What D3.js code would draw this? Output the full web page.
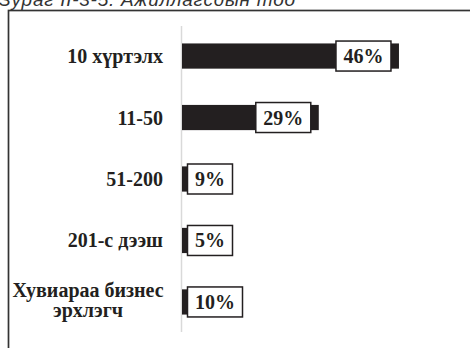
<!DOCTYPE html>
<html>
<head>
<meta charset="utf-8">
<script src="https://cdn.jsdelivr.net/npm/d3@7/dist/d3.min.js"></script>
<style>
  html, body { margin: 0; padding: 0; background: #fff; overflow: hidden; }
  svg { display: block; }
</style>
</head>
<body>
<script>
// Chart data
const title = "Зураг II-3-5. Ажиллагсдын тоо";
const categories = ["10 хүртэлх", "11-50", "51-200", "201-с дээш", "Хувиараа бизнес\nэрхлэгч"];
const values = [46, 29, 9, 5, 10];
const valueLabels = ["46%", "29%", "9%", "5%", "10%"];

const W = 470, H = 348;
const svg = d3.select("body").append("svg").attr("width", W).attr("height", H);

// Title (partly above the top edge)
svg.append("text")
  .attr("x", -1).attr("y", 6)
  .attr("font-family", "Liberation Sans, Arial, sans-serif")
  .attr("font-style", "italic")
  .attr("font-size", 19)
  .attr("fill", "#333")
  .attr("textLength", 296)
  .attr("lengthAdjust", "spacing")
  .text(title);

// Outer frame
svg.append("rect")
  .attr("x", 8.5).attr("y", 10.5)
  .attr("width", 600).attr("height", 500)
  .attr("fill", "none").attr("stroke", "#333").attr("stroke-width", 1.7);

const x = d3.scaleLinear().domain([0, 60]).range([182, 465]);
const y = d3.scaleBand().domain(categories).range([25, 333]).paddingInner(0.59).paddingOuter(0.3);

// Category axis line
svg.append("line")
  .attr("x1", 181.5).attr("x2", 181.5)
  .attr("y1", 26).attr("y2", 332)
  .attr("stroke", "#d9d9d9").attr("stroke-width", 1.5);

const rows = svg.append("g").selectAll("g")
  .data(categories.map((c, i) => ({ c, v: values[i], lab: valueLabels[i] })))
  .join("g");

// Bars
rows.append("rect")
  .attr("x", x(0))
  .attr("y", d => y(d.c))
  .attr("width", d => x(d.v) - x(0))
  .attr("height", y.bandwidth())
  .attr("fill", "#231f20");

// Category labels
const serif = "Liberation Serif, Times New Roman, serif";
rows.each(function(d) {
  const g = d3.select(this);
  const lines = d.c.split("\n");
  const cy = y(d.c) + y.bandwidth() / 2;
  if (lines.length === 1) {
    g.append("text")
      .attr("x", 163).attr("y", cy).attr("dy", "0.35em")
      .attr("text-anchor", "end")
      .attr("font-family", serif).attr("font-weight", "bold").attr("font-size", 20)
      .attr("fill", "#231f20")
      .text(lines[0]);
  } else {
    lines.forEach((ln, k) => {
      g.append("text")
        .attr("text-anchor", "middle")
        .attr("font-family", serif).attr("font-weight", "bold").attr("font-size", 20)
        .attr("fill", "#231f20")
        .attr("x", 88).attr("y", cy - 4.5 + k * 19.6).text(ln);
    });
  }
});

// Value labels in white boxes
rows.each(function(d) {
  const g = d3.select(this);
  const cy = y(d.c) + y.bandwidth() / 2;
  const t = g.append("text")
    .attr("text-anchor", "middle")
    .attr("font-family", serif).attr("font-weight", "bold").attr("font-size", 20)
    .attr("fill", "#231f20")
    .text(d.lab);
  const tw = t.node().getComputedTextLength();
  const bw = tw + 15, bh = 30;
  const bx = Math.max(x(0) + 5.5, x(d.v) - 8 - bw);
  g.insert("rect", "text:last-of-type")
    .attr("x", bx).attr("y", cy - bh / 2)
    .attr("width", bw).attr("height", bh)
    .attr("fill", "#fff").attr("stroke", "#231f20").attr("stroke-width", 1.5);
  t.attr("x", bx + bw / 2).attr("y", cy).attr("dy", "0.35em");
});
</script>
</body>
</html>
